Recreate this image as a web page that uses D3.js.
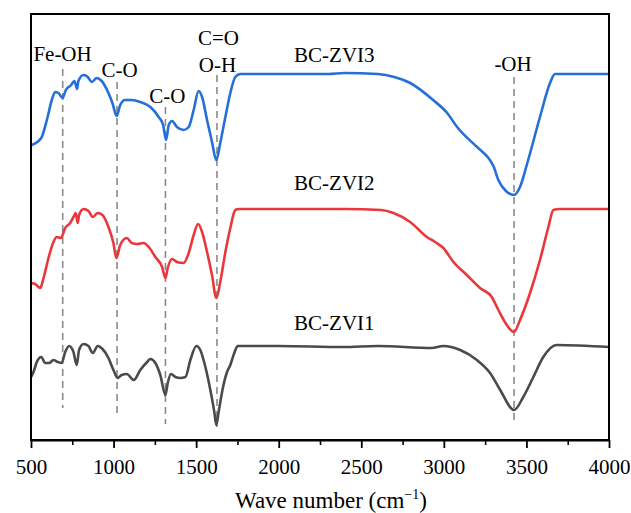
<!DOCTYPE html>
<html>
<head>
<meta charset="utf-8">
<script src="https://cdn.jsdelivr.net/npm/d3@7"></script>
<style>
  html, body { margin: 0; padding: 0; background: #fff; }
  svg { display: block; }
  text { font-family: "Liberation Serif", "Times New Roman", serif; fill: #000; }
</style>
</head>
<body>
<svg id="chart" width="631" height="513"></svg>
<script>
// ---- Data (wavenumber in cm^-1, transmittance in arbitrary units) ----
const xTicks = [500, 1000, 1500, 2000, 2500, 3000, 3500, 4000];
const xMinorTicks = [750, 1250, 1750, 2250, 2750, 3250, 3750];

const zvi3Wave = [505,562,596,626,646,666,691,711,743,763,779,787,818,844,868,898,928,969,993,1019,1040,1070,1110,1162,1223,1273,1300,1318,1334,1354,1384,1424,1455,1485,1515,1536,1566,1596,1622,1646,1677,1707,1737,1767,2000,2300,2400,2600,2700,2796,2935,3020,3080,3201,3270,3300,3330,3376,3425,3461,3502,3582,3643,3673,3800,4000];
const zvi3T    = [295,302,320,340,348,347,342,350,355,359,351,359,365,363,358,362,359,347,337,324,335,340,340,338,333,323,315,300,315,319,313,310,313,330,349,343,320,298,280,297,323,347,363,366,366,366,367,366,363,357,340,327,313,293,282,274,260,249,245,253,275,323,357,366,366,366];

const zvi2Wave = [501,525,556,576,606,636,656,681,707,737,757,771,783,791,818,848,874,904,933,969,999,1017,1040,1080,1110,1142,1182,1213,1253,1294,1314,1328,1354,1384,1424,1455,1485,1512,1536,1566,1596,1622,1646,1677,1707,1737,1760,2400,2620,2695,2796,2897,2947,2997,3058,3139,3219,3290,3330,3381,3425,3461,3522,3582,3633,3663,3700,4000];
const zvi2T    = [157,156,152,162,182,198,203,202,212,217,223,227,217,225,231,229,223,227,225,213,197,182,195,202,197,196,197,193,183,173,162,172,181,178,177,187,205,216,208,188,165,142,158,188,212,230,231,231,230,227,218,203,198,192,178,165,152,143,130,115,108,120,147,180,213,230,231,231];

const zvi1Wave = [501,515,535,562,586,610,636,662,686,707,731,757,777,791,818,848,874,904,933,969,999,1025,1049,1080,1122,1162,1203,1223,1253,1283,1314,1328,1348,1374,1404,1435,1465,1501,1525,1556,1586,1610,1622,1636,1663,1687,1707,1731,1751,2000,2390,2600,2927,2996,3099,3200,3280,3341,3425,3481,3542,3602,3683,4000];
const zvi1T    = [63,68,78,83,77,77,80,78,77,88,94,88,75,90,96,94,87,94,91,82,70,62,65,66,60,70,78,81,77,65,45,57,66,63,62,63,80,94,90,73,50,28,15,28,53,68,75,87,94,94,93,94,92,94,90,80,67,50,30,43,63,83,95,93];

// Marker lines: wavenumber, top and bottom (a.u.)
const markWave   = [692, 1021, 1314, 1626, 3425];
const markTop    = [371, 358, 333, 365, 363];
const markBottom = [32, 25, 16, 13, 15];

// Text annotations
const annText  = ["Fe-OH", "C-O", "C-O", "C=O", "O-H", "BC-ZVI3", "-OH", "BC-ZVI2", "BC-ZVI1"];
const annWave  = [691, 1036, 1326, 1635, 1629, 2337, 3419, 2337, 2337];
const annT     = [379, 363, 337, 395, 368, 378, 369, 250, 110];

// ---- Layout ----
const W = 631, H = 513;
const margin = {left: 31, right: 22, top: 14, bottom: 73};
const svg = d3.select("#chart");

const x = d3.scaleLinear().domain([500, 4000]).range([margin.left, W - margin.right]);
const y = d3.scaleLinear().domain([0, 426]).range([H - margin.bottom, margin.top]);

// marker dashed lines
svg.append("g").selectAll("line").data(markWave).join("line")
  .attr("x1", d => x(d)).attr("x2", d => x(d))
  .attr("y1", (d, i) => y(markTop[i])).attr("y2", (d, i) => y(markBottom[i]))
  .attr("stroke", "#8a8a8a").attr("stroke-width", 1.6)
  .attr("stroke-dasharray", "7,5");

// curves
const series = [
  {wave: zvi1Wave, t: zvi1T, color: "#4a4a4a"},
  {wave: zvi2Wave, t: zvi2T, color: "#e8383b"},
  {wave: zvi3Wave, t: zvi3T, color: "#2470d8"}
];
const line = d3.line().x(d => x(d[0])).y(d => y(d[1])).curve(d3.curveMonotoneX);
series.forEach(s => {
  svg.append("path")
    .datum(s.wave.map((w, i) => [w, s.t[i]]))
    .attr("fill", "none")
    .attr("stroke", s.color)
    .attr("stroke-width", 2.6)
    .attr("stroke-linejoin", "round")
    .attr("d", line);
});

// frame
svg.append("rect")
  .attr("x", margin.left).attr("y", margin.top)
  .attr("width", W - margin.left - margin.right)
  .attr("height", H - margin.top - margin.bottom)
  .attr("fill", "none").attr("stroke", "#000").attr("stroke-width", 2);

// bottom axis (minor)
const gMinor = svg.append("g").attr("transform", `translate(0,${H - margin.bottom})`)
  .call(d3.axisBottom(x).tickValues(xMinorTicks).tickSize(5).tickFormat(""));
gMinor.select(".domain").remove();
gMinor.selectAll("line").attr("stroke", "#000").attr("stroke-width", 1.6);

// bottom axis (major)
const gAx = svg.append("g").attr("transform", `translate(0,${H - margin.bottom})`)
  .call(d3.axisBottom(x).tickValues(xTicks).tickSize(8).tickSizeOuter(0).tickPadding(11).tickFormat(d3.format("d")));
gAx.select(".domain").attr("stroke", "#000").attr("stroke-width", 2);
gAx.selectAll(".tick line").attr("stroke", "#000").attr("stroke-width", 1.8);
gAx.selectAll(".tick text")
  .style("font-family", '"Liberation Serif", "Times New Roman", serif')
  .style("font-size", "21px").attr("fill", "#000");

// axis title
const title = svg.append("text")
  .attr("x", 331).attr("y", 508)
  .attr("text-anchor", "middle")
  .style("font-size", "23px");
title.append("tspan").text("Wave number (cm");
title.append("tspan").text("\u22121").attr("dy", -9).style("font-size", "14px");
title.append("tspan").text(")").attr("dy", 9);

// annotations
svg.append("g").selectAll("text").data(annText).join("text")
  .attr("x", (d, i) => x(annWave[i]))
  .attr("y", (d, i) => y(annT[i]))
  .attr("text-anchor", "middle")
  .style("font-size", "21px")
  .text(d => d);
</script>
</body>
</html>
